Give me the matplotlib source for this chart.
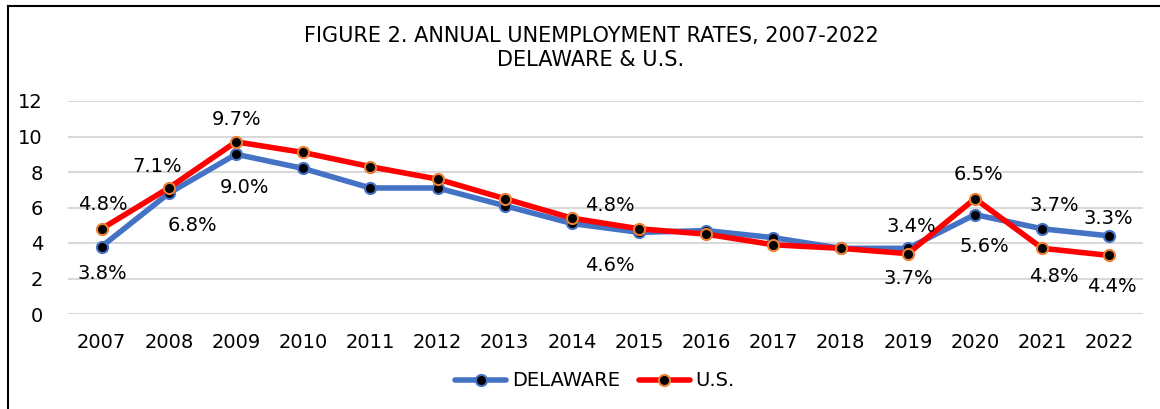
import matplotlib
matplotlib.use("Agg")
import matplotlib.pyplot as plt
from matplotlib.lines import Line2D

years = ["2007", "2008", "2009", "2010", "2011", "2012", "2013", "2014",
         "2015", "2016", "2017", "2018", "2019", "2020", "2021", "2022"]
delaware = [3.8, 6.8, 9.0, 8.2, 7.1, 7.1, 6.1, 5.1, 4.6, 4.7, 4.3, 3.7, 3.7, 5.6, 4.8, 4.4]
us = [4.8, 7.1, 9.7, 9.1, 8.3, 7.6, 6.5, 5.4, 4.8, 4.5, 3.9, 3.7, 3.4, 6.5, 3.7, 3.3]

# indices of points that carry data labels
labeled_idx = [0, 1, 2, 8, 12, 13, 14, 15]
# label offsets (pixels, dx, dy) for each labeled point
us_label_off = [(1, 24), (-12, 21), (1, 22), (-29, 23), (3, 27), (3, 24), (12, 43), (-1, 37)]
de_label_off = [(1, -27), (24, -32), (9, -33), (-29, -33), (0, -30), (9, -32), (12, -48), (2, -51)]

plt.rcParams['font.family'] = ['DejaVu Sans']
W, H = 1160, 409
fig = plt.figure(figsize=(W / 100, H / 100), dpi=100)
ax = fig.add_axes([68 / W, 1 - 314 / H, (1143 - 68) / W, (314 - 101) / H])

x = list(range(len(years)))
BLUE = "#4472C4"
RED = "#FF0000"
ORANGE = "#ED7D31"

ax.plot(x, delaware, color=BLUE, lw=4.0, marker='o', ms=8, mfc='black',
        mec=BLUE, mew=1.5, label="DELAWARE", zorder=3, solid_capstyle='round')
ax.plot(x, us, color=RED, lw=4.0, marker='o', ms=8, mfc='black',
        mec=ORANGE, mew=1.5, label="U.S.", zorder=4, solid_capstyle='round')

for k, i in enumerate(labeled_idx):
    dx, dy = us_label_off[k]
    ax.annotate(f"{us[i]:.1f}%", (x[i], us[i]), xytext=(dx, dy),
                textcoords='offset pixels', ha='center', va='center',
                fontsize=14, color='black', zorder=5)
    dx, dy = de_label_off[k]
    ax.annotate(f"{delaware[i]:.1f}%", (x[i], delaware[i]), xytext=(dx, dy),
                textcoords='offset pixels', ha='center', va='center',
                fontsize=14, color='black', zorder=5)

ax.set_xlim(-0.5, len(years) - 0.5)
ax.set_ylim(0, 12)
ax.set_yticks([0, 2, 4, 6, 8, 10, 12])
ax.set_xticks(x)
ax.set_xticklabels(years)
ax.tick_params(axis='both', length=0, labelsize=14, colors='black')
ax.tick_params(axis='y', pad=18)
ax.tick_params(axis='x', pad=14)
ax.grid(axis='y', color='#D9D9D9', lw=1.5)
ax.set_axisbelow(True)
for s in ax.spines.values():
    s.set_visible(False)

fig.text(591 / W, 1 - 36 / H, "FIGURE 2. ANNUAL UNEMPLOYMENT RATES, 2007-2022",
         ha='center', va='center', fontsize=15)
fig.text(591 / W, 1 - 60 / H, "DELAWARE & U.S.", ha='center', va='center', fontsize=15)

leg = fig.legend(loc='center', bbox_to_anchor=(595 / W, 1 - 381 / H), ncol=2,
                 frameon=False, fontsize=14, handlelength=2.6, columnspacing=1.0,
                 handletextpad=0.3)

# figure border (left and top visible)
fig.add_artist(Line2D([8 / W, 8 / W], [0, 1 - 6 / H], color='black', lw=1.5,
                      transform=fig.transFigure))
fig.add_artist(Line2D([8 / W, 1], [1 - 6 / H, 1 - 6 / H], color='black', lw=1.5,
                      transform=fig.transFigure))

fig.savefig("out.png", dpi=100)
